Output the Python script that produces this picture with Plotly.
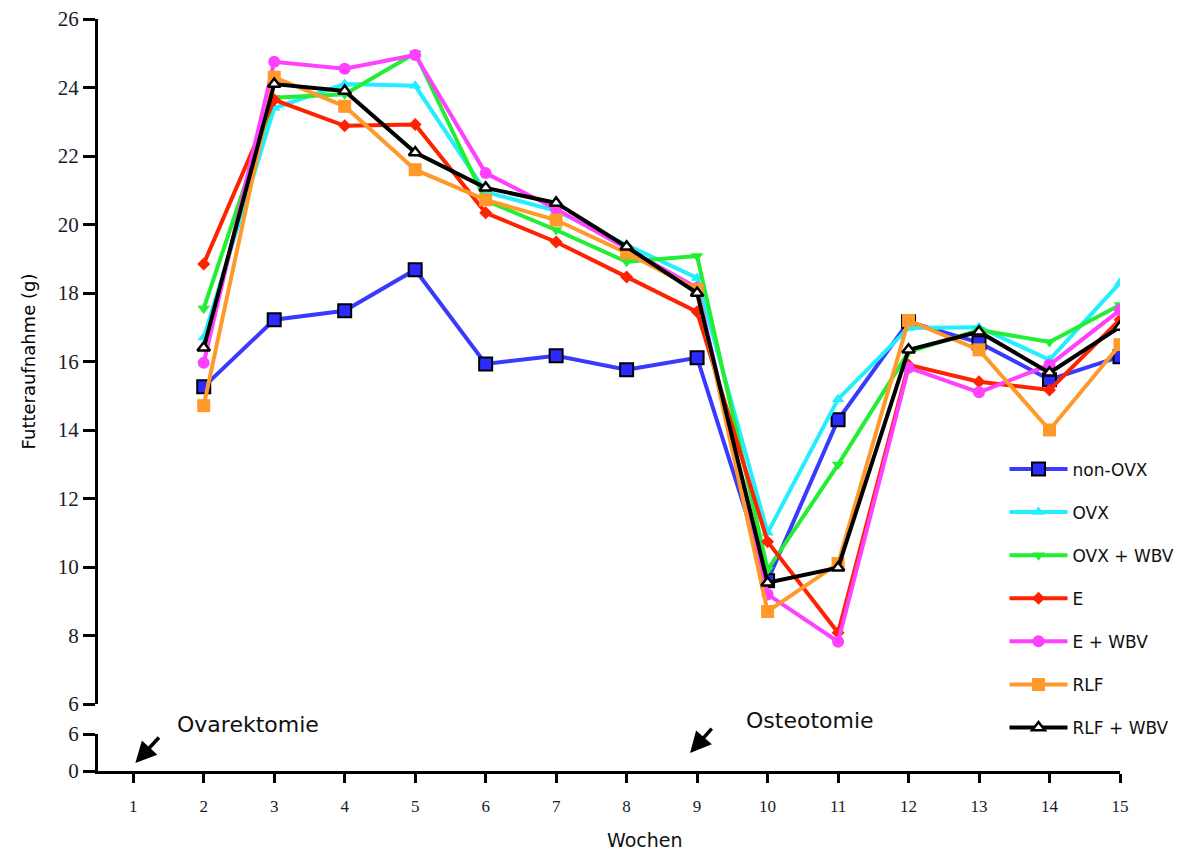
import plotly.graph_objects as go

weeks = list(range(2, 16))
x_ticks = list(range(1, 16))

non_ovx = [15.26, 17.22, 17.48, 18.68, 15.93, 16.17, 15.76, 16.11, 9.6, 14.30, 17.16, 16.55, 15.47, 16.14]
ovx = [16.7, 23.4, 24.1, 24.05, 20.95, 20.4, 19.4, 18.44, 11.0, 14.9, 16.98, 17.0, 16.05, 18.3]
ovx_wbv = [17.55, 23.7, 23.8, 25.0, 20.7, 19.84, 18.91, 19.08, 9.92, 12.99, 16.28, 16.92, 16.57, 17.65]
e_grp = [18.85, 23.64, 22.88, 22.92, 20.34, 19.49, 18.47, 17.45, 10.74, 8.08, 15.9, 15.41, 15.17, 17.22]
e_wbv = [15.96, 24.75, 24.55, 24.95, 21.5, 20.45, 19.3, 18.15, 9.2, 7.82, 15.82, 15.1, 15.9, 17.5]
rlf = [14.71, 24.3, 23.45, 21.6, 20.72, 20.13, 19.17, 18.1, 8.70, 10.1, 17.2, 16.34, 14.0, 16.49]
rlf_wbv = [16.40, 24.1, 23.9, 22.1, 21.07, 20.63, 19.35, 18.0, 9.54, 9.98, 16.34, 16.87, 15.67, 17.01]

main_ticks = [6, 8, 10, 12, 14, 16, 18, 20, 22, 24, 26]
low_ticks = [0, 6]

series = [
    ("non-OVX", non_ovx, "#3a3aff", dict(symbol="square", size=13, color="#2b2bff", line=dict(color="black", width=2))),
    ("OVX", ovx, "#22eeff", dict(symbol="triangle-up", size=11, color="#22eeff")),
    ("OVX + WBV", ovx_wbv, "#22ee33", dict(symbol="triangle-down", size=11, color="#22ee33")),
    ("E", e_grp, "#ff2200", dict(symbol="diamond", size=10, color="#ff2200")),
    ("E + WBV", e_wbv, "#ff40ff", dict(symbol="circle", size=12, color="#ff40ff")),
    ("RLF", rlf, "#ff9a2a", dict(symbol="square", size=13, color="#ff9a2a")),
    ("RLF + WBV", rlf_wbv, "#000000", dict(symbol="triangle-up", size=11, color="white", line=dict(color="black", width=2.5))),
]

fig = go.Figure()
for i, (name, vals, col, mk) in enumerate(series):
    fig.add_trace(go.Scatter(
        x=weeks, y=vals, name=name, mode="lines+markers",
        line=dict(color=col, width=4), marker=mk,
        xaxis="x", yaxis="y", legendgroup=f"g{i}",
    ))

fig.add_trace(go.Scatter(x=[None], y=[None], xaxis="x", yaxis="y2", showlegend=False, hoverinfo="skip"))

tickfont_y = dict(family="Liberation Serif", size=21, color="#1a1a2a")
tickfont_x = dict(family="Liberation Serif", size=17, color="#1a1a2a")

fig.update_layout(
    width=1201, height=852,
    margin=dict(l=98, r=81, t=19, b=81, autoexpand=False),
    plot_bgcolor="white", paper_bgcolor="white",
    showlegend=True,
    legend=dict(
        x=0.887, y=0.425, xanchor="left", yanchor="top",
        font=dict(family="DejaVu Sans", size=17, color="#111"),
        tracegroupgap=18, bgcolor="rgba(0,0,0,0)", itemwidth=58,
    ),
    xaxis=dict(
        range=[0.5, 15], anchor="y2", domain=[0, 1], automargin=False,
        tickmode="array", tickvals=x_ticks, ticktext=[str(v) for v in x_ticks],
        ticks="outside", ticklen=9, tickwidth=2.5, tickcolor="black",
        showline=True, linecolor="black", linewidth=3,
        showgrid=False, zeroline=False, tickfont=tickfont_x, ticklabelstandoff=9,
    ),
    yaxis=dict(
        range=[6, 26], domain=[0.0891, 1], anchor="x", automargin=False,
        tickmode="array", tickvals=main_ticks, ticktext=[str(v) for v in main_ticks],
        ticks="outside", ticklen=12, tickwidth=3, tickcolor="black",
        showline=True, linecolor="black", linewidth=3,
        showgrid=False, zeroline=False, tickfont=tickfont_y,
        title=dict(text="Futteraufnahme (g)", font=dict(family="DejaVu Sans", size=18, color="black"), standoff=18),
    ),
    yaxis2=dict(
        range=[0, 6], domain=[0, 0.0492], anchor="x", automargin=False,
        tickmode="array", tickvals=low_ticks, ticktext=[str(v) for v in low_ticks],
        ticks="outside", ticklen=12, tickwidth=3, tickcolor="black",
        showline=True, linecolor="black", linewidth=3,
        showgrid=False, zeroline=False, tickfont=tickfont_y,
    ),
)

fig.add_annotation(xref="x", yref="y2", x=1.03, y=1.3, ax=25, ay=-27,
                   showarrow=True, arrowhead=2, arrowsize=1.2, arrowwidth=3.5, arrowcolor="black", text="")
fig.add_annotation(xref="x", yref="y2", x=8.9, y=2.9, ax=23, ay=-26,
                   showarrow=True, arrowhead=2, arrowsize=1.2, arrowwidth=3.5, arrowcolor="black", text="")
fig.add_annotation(xref="paper", yref="paper", x=(175 - 98) / 1022, y=(771 - 724) / 752,
                   xanchor="left", yanchor="middle", showarrow=False, text="Ovarektomie",
                   font=dict(family="DejaVu Sans", size=22, color="#111"))
fig.add_annotation(xref="paper", yref="paper", x=(744 - 98) / 1022, y=(771 - 720) / 752,
                   xanchor="left", yanchor="middle", showarrow=False, text="Osteotomie",
                   font=dict(family="DejaVu Sans", size=22, color="#111"))
fig.add_annotation(xref="paper", yref="paper", x=(645 - 98) / 1022, y=-(840 - 771) / 752,
                   xanchor="center", yanchor="middle", showarrow=False, text="Wochen",
                   font=dict(family="DejaVu Sans", size=19, color="#111"))

fig.write_html("out.html")
